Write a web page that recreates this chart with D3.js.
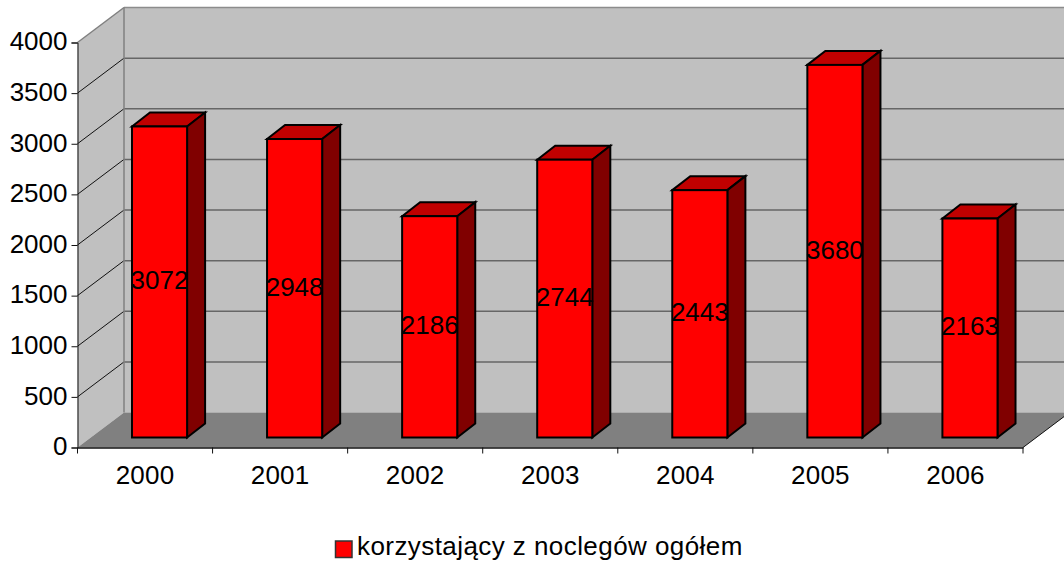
<!DOCTYPE html>
<html>

<head>
    <meta charset="utf-8">
    <style>
        body {
            margin: 0;
            background: #fff;
        }

        svg {
            display: block;
        }

        text {
            font-family: 'Liberation Sans', Arial, sans-serif;
            font-size: 26px;
            fill: #000;
        }
    </style>
</head>

<body>
    <svg width="1064" height="563"></svg>

    <script src="https://d3js.org/d3.v7.min.js"></script>
    <script>
        let years = ["2000", "2001", "2002", "2003", "2004", "2005", "2006"]
        let values = [3072, 2948, 2186, 2744, 2443, 3680, 2163]
        let yTicks = [0, 500, 1000, 1500, 2000, 2500, 3000, 3500, 4000]
        let seriesName = "korzystający z noclegów ogółem"

        let svg = d3.select("svg")

        let plot = { left: 77.5, right: 1023, top: 42.5, bottom: 447.5 }
        // how far the back wall is shifted from the front plane
        let wallDx = 46.5
        let wallDy = -35
        // how far the bars go in depth, and where they stand on the floor
        let barDx = 18
        let barDy = -14
        let barShiftX = 14.5
        let barShiftY = -10

        let x = d3.scaleBand()
            .domain(years)
            .range([plot.left, plot.right])
            .paddingInner(0.592)
            .paddingOuter(0.296)

        let y = d3.scaleLinear()
            .domain([0, 4000])
            .range([plot.bottom, plot.top])

        let poly = pts => pts.map(p => p.join(",")).join(" ")

        // back wall
        svg.append("polygon")
            .attr("points", poly([
                [plot.left + wallDx, y(4000) + wallDy],
                [plot.right + wallDx, y(4000) + wallDy],
                [plot.right + wallDx, y(0) + wallDy],
                [plot.left + wallDx, y(0) + wallDy]]))
            .attr("fill", "#c0c0c0")

        // side wall
        svg.append("polygon")
            .attr("points", poly([
                [plot.left, y(4000)],
                [plot.left + wallDx, y(4000) + wallDy],
                [plot.left + wallDx, y(0) + wallDy],
                [plot.left, y(0)]]))
            .attr("fill", "#c0c0c0")

        // floor
        svg.append("polygon")
            .attr("points", poly([
                [plot.left, y(0)],
                [plot.left + wallDx, y(0) + wallDy],
                [plot.right + wallDx, y(0) + wallDy],
                [plot.right, y(0)]]))
            .attr("fill", "#808080")

        // gridlines
        svg.append("g")
            .selectAll("line")
            .data(yTicks.filter(d => d > 0))
            .join("line")
            .attr("x1", plot.left + wallDx)
            .attr("x2", plot.right + wallDx)
            .attr("y1", d => y(d) + wallDy)
            .attr("y2", d => y(d) + wallDy)
            .attr("stroke", d => d == 4000 ? "#8c8c8c" : "#666")
            .attr("stroke-width", 1.5)

        svg.append("g")
            .selectAll("line")
            .data(yTicks.filter(d => d > 0))
            .join("line")
            .attr("x1", plot.left)
            .attr("x2", plot.left + wallDx)
            .attr("y1", d => y(d))
            .attr("y2", d => y(d) + wallDy)
            .attr("stroke", d => d == 4000 ? "#808080" : "#111")
            .attr("stroke-width", d => d == 4000 ? 1.5 : 1)

        svg.append("line")
            .attr("x1", plot.left + wallDx)
            .attr("x2", plot.left + wallDx)
            .attr("y1", y(4000) + wallDy)
            .attr("y2", y(0) + wallDy)
            .attr("stroke", "#808080")
            .attr("stroke-width", 1.5)

        // floor right edge
        svg.append("line")
            .attr("x1", plot.right)
            .attr("x2", plot.right + wallDx)
            .attr("y1", y(0))
            .attr("y2", y(0) + wallDy)
            .attr("stroke", "#111")
            .attr("stroke-width", 1)

        // axes
        let xAxisSettings = d3.axisBottom(x)
            .tickValues([])
            .tickSizeOuter(0)

        let xAxis = svg.append("g")
            .attr("transform", `translate(0,${plot.bottom})`)
            .call(xAxisSettings)

        xAxis.selectAll(".domain").attr("stroke", "#111").attr("stroke-width", 1.5)

        xAxis.selectAll(".band-tick")
            .data(d3.range(years.length + 1))
            .join("line")
            .attr("x1", i => plot.left + i * x.step())
            .attr("x2", i => plot.left + i * x.step())
            .attr("y1", 0)
            .attr("y2", 6)
            .attr("stroke", "#111")

        xAxis.selectAll(".year")
            .data(years)
            .join("text")
            .attr("x", d => x(d) + x.bandwidth() / 2)
            .attr("y", 36)
            .attr("text-anchor", "middle")
            .style("letter-spacing", "0.2px")
            .text(d => d)

        let yAxisSettings = d3.axisLeft(y)
            .tickValues(yTicks)
            .tickSize(6)
            .tickPadding(4)
            .tickFormat(d3.format("d"))

        let yAxis = svg.append("g")
            .attr("transform", `translate(${plot.left},0)`)
            .call(yAxisSettings)

        yAxis.selectAll(".domain").attr("stroke", "#111").attr("stroke-width", 1)
        yAxis.selectAll(".tick line").attr("stroke", "#111")
        yAxis.selectAll(".tick text")
            .attr("y", -1)
            .style("font-size", "26px")
            .attr("fill", "#000")
        yAxis.attr("font-family", null).attr("font-size", null)

        // bars
        let bars = svg.append("g")
            .selectAll("g")
            .data(years.map((d, i) => ({ year: d, value: values[i] })))
            .join("g")
            .attr("stroke", "#000")
            .attr("stroke-width", 2)
            .attr("stroke-linejoin", "miter")

        let bx0 = d => x(d.year) + barShiftX
        let bx1 = d => bx0(d) + x.bandwidth()
        let by0 = () => y(0) + barShiftY
        let by1 = d => y(d.value) + barShiftY

        bars.append("polygon")
            .attr("fill", "#c00000")
            .attr("points", d => poly([
                [bx0(d), by1(d)],
                [bx0(d) + barDx, by1(d) + barDy],
                [bx1(d) + barDx, by1(d) + barDy],
                [bx1(d), by1(d)]]))

        bars.append("polygon")
            .attr("fill", "#800000")
            .attr("points", d => poly([
                [bx1(d), by1(d)],
                [bx1(d) + barDx, by1(d) + barDy],
                [bx1(d) + barDx, by0() + barDy],
                [bx1(d), by0()]]))

        bars.append("rect")
            .attr("fill", "#ff0000")
            .attr("x", bx0)
            .attr("y", by1)
            .attr("width", x.bandwidth())
            .attr("height", d => by0() - by1(d))

        // value labels
        svg.append("g")
            .selectAll("text")
            .data(years.map((d, i) => ({ year: d, value: values[i] })))
            .join("text")
            .attr("x", d => bx0(d) + x.bandwidth() / 2)
            .attr("y", d => (by0() + by1(d)) / 2 + 7.5)
            .attr("text-anchor", "middle")
            .text(d => d.value)

        // legend
        svg.append("rect")
            .attr("x", 335.5)
            .attr("y", 541)
            .attr("width", 16.5)
            .attr("height", 16.5)
            .attr("fill", "#ff0000")
            .attr("stroke", "#333")
            .attr("stroke-width", 1.5)

        svg.append("text")
            .attr("x", 357)
            .attr("y", 555)
            .style("letter-spacing", "0.43px")
            .text(seriesName)
    </script>
</body>

</html>
